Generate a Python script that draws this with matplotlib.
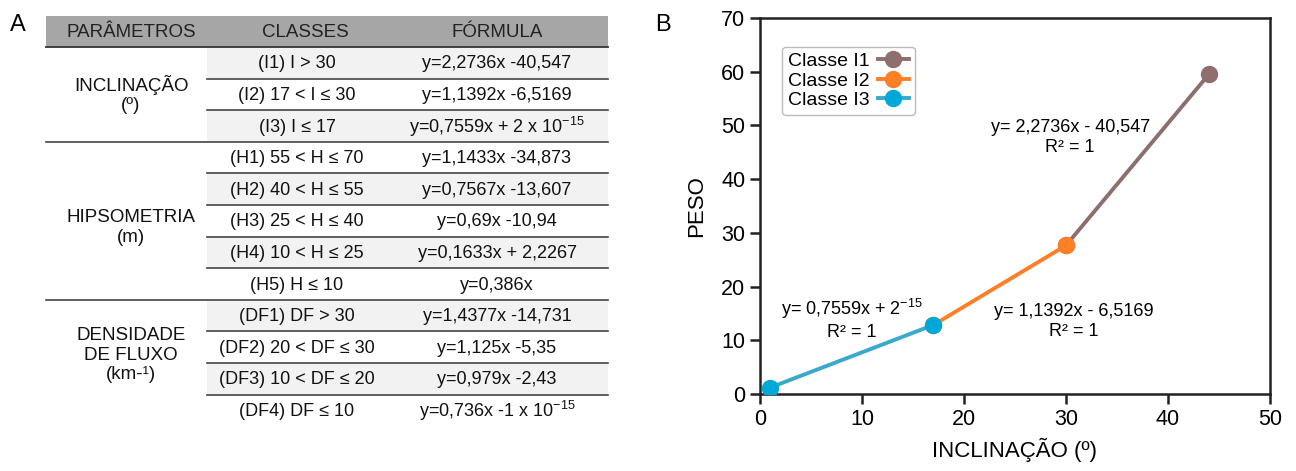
import numpy as np
import matplotlib
matplotlib.use("Agg")
import matplotlib.pyplot as plt
from matplotlib.patches import Rectangle

plt.rcParams['font.family'] = ['Liberation Sans', 'DejaVu Sans']
plt.rcParams['mathtext.fontset'] = 'custom'
plt.rcParams['mathtext.rm'] = 'Liberation Sans'
plt.rcParams['mathtext.it'] = 'Liberation Sans:italic'

# table data (panel A)
headers = ["PARÂMETROS", "CLASSES", "FÓRMULA"]
groups = ["INCLINAÇÃO\n(º)", "HIPSOMETRIA\n(m)", "DENSIDADE\nDE FLUXO\n(km-¹)"]
group_sizes = [3, 5, 4]
classes = ["(I1) I > 30", "(I2) 17 < I ≤ 30", "(I3) I ≤ 17",
           "(H1) 55 < H ≤ 70", "(H2) 40 < H ≤ 55", "(H3) 25 < H ≤ 40",
           "(H4) 10 < H ≤ 25", "(H5) H ≤ 10",
           "(DF1) DF > 30", "(DF2) 20 < DF ≤ 30", "(DF3) 10 < DF ≤ 20", "(DF4) DF ≤ 10"]
formulas = ["y=2,2736x -40,547", "y=1,1392x -6,5169", r"y=0,7559x + 2 x 10$^{-15}$",
            "y=1,1433x -34,873", "y=0,7567x -13,607", "y=0,69x -10,94",
            "y=0,1633x + 2,2267", "y=0,386x",
            "y=1,4377x -14,731", "y=1,125x -5,35", "y=0,979x -2,43",
            r"y=0,736x -1 x 10$^{-15}$"]

# chart data (panel B)
i1_x = [30, 44]
i1_y = [27.66, 59.5]
i2_x = [17, 30]
i2_y = [12.85, 27.66]
i3_x = [1, 17]
i3_y = [1.2, 12.85]

fig = plt.figure(figsize=(12.96, 4.71), dpi=100)

# ---- panel A : table drawn in pixel coords ----
tab = fig.add_axes([0, 0, 1, 1])
tab.set_xlim(0, 1296)
tab.set_ylim(471, 0)
tab.axis('off')

x0, x1, x3 = 46, 207, 608
head_top, head_bot = 16, 47
rh = 31.6
fs = 13
group_dy = [0, 7, -8]

tab.add_patch(Rectangle((x0, head_top), x3 - x0, head_bot - head_top, color='#a6a6a6', lw=0))
for txt, cx in zip(headers, [131, 305, 497]):
    tab.text(cx, (head_top + head_bot) / 2 + 1, txt, ha='center', va='center', fontsize=13.5, color='#222222')
tab.plot([x0, x3], [head_bot, head_bot], color='#333333', lw=1.3)

for i, (c, f) in enumerate(zip(classes, formulas)):
    y = head_bot + i * rh
    if i % 2 == 0:
        tab.add_patch(Rectangle((x1, y), x3 - x1, rh, color='#f2f2f2', lw=0))
    tab.text(297, y + rh / 2 + 1, c, ha='center', va='center', fontsize=fs, color='#111111')
    tab.text(497, y + rh / 2 + 1, f, ha='center', va='center', fontsize=fs, color='#111111')

start = 0
for g, n, dy in zip(groups, group_sizes, group_dy):
    for k in range(1, n):
        y = head_bot + (start + k) * rh
        tab.plot([x1, x3], [y, y], color='#444444', lw=1.2)
    ymid = head_bot + (start + n / 2) * rh + dy
    tab.text(131, ymid, g, ha='center', va='center', fontsize=13.5,
             color='#111111', linespacing=1.2)
    start += n
    if start < len(classes):
        y = head_bot + start * rh
        tab.plot([x0, x3], [y, y], color='#444444', lw=1.2)

fig.text(18 / 1296, 1 - 25 / 471, "A", fontsize=17, ha='center', va='center')
fig.text(663 / 1296, 1 - 25 / 471, "B", fontsize=17, ha='center', va='center')

# ---- panel B : line chart ----
ax = fig.add_axes([760 / 1296, 77 / 471, 510 / 1296, 376 / 471])
c1, c2, c3 = '#8e6f6e', '#ff7f27', '#00a8d8'
ax.plot(i1_x, i1_y, color=c1, lw=2.8, marker='o', ms=11.5, label='Classe I1', zorder=3)
ax.plot(i2_x, i2_y, color=c2, lw=2.8, marker='o', ms=11.5, label='Classe I2', zorder=4)
ax.plot(i3_x, i3_y, color='#3aa9cc', lw=2.8, marker='o', ms=11.5, mfc=c3, mec=c3,
        label='Classe I3', zorder=5)

ax.set_xlim(0, 50)
ax.set_ylim(0, 70)
ax.set_xticks(np.arange(0, 51, 10))
ax.set_yticks(np.arange(0, 71, 10))
ax.tick_params(labelsize=15.5, length=7, width=1.8, color='#222222')
for s in ax.spines.values():
    s.set_linewidth(1.8)
    s.set_color('#222222')
ax.set_xlabel("INCLINAÇÃO (º)", fontsize=16, labelpad=6)
ax.set_ylabel("PESO", fontsize=16, labelpad=10)

ax.text(30.4, 47.8, "y= 2,2736x - 40,547\nR² = 1", ha='center', va='center', fontsize=13, linespacing=1.2)
ax.text(9.0, 14.0, "y= 0,7559x + 2$^{-15}$\nR² = 1", ha='center', va='center', fontsize=13, linespacing=1.2)
ax.text(30.8, 13.5, "y= 1,1392x - 6,5169\nR² = 1", ha='center', va='center', fontsize=13, linespacing=1.2)

leg = ax.legend(loc='upper left', bbox_to_anchor=(0.025, 0.95), markerfirst=False, fontsize=14,
                handlelength=1.6, handletextpad=0.4, borderpad=0.3, labelspacing=0.1,
                frameon=True, edgecolor='#aaaaaa', fancybox=True)
leg.get_frame().set_linewidth(1.0)

fig.savefig("out.png", dpi=100)
